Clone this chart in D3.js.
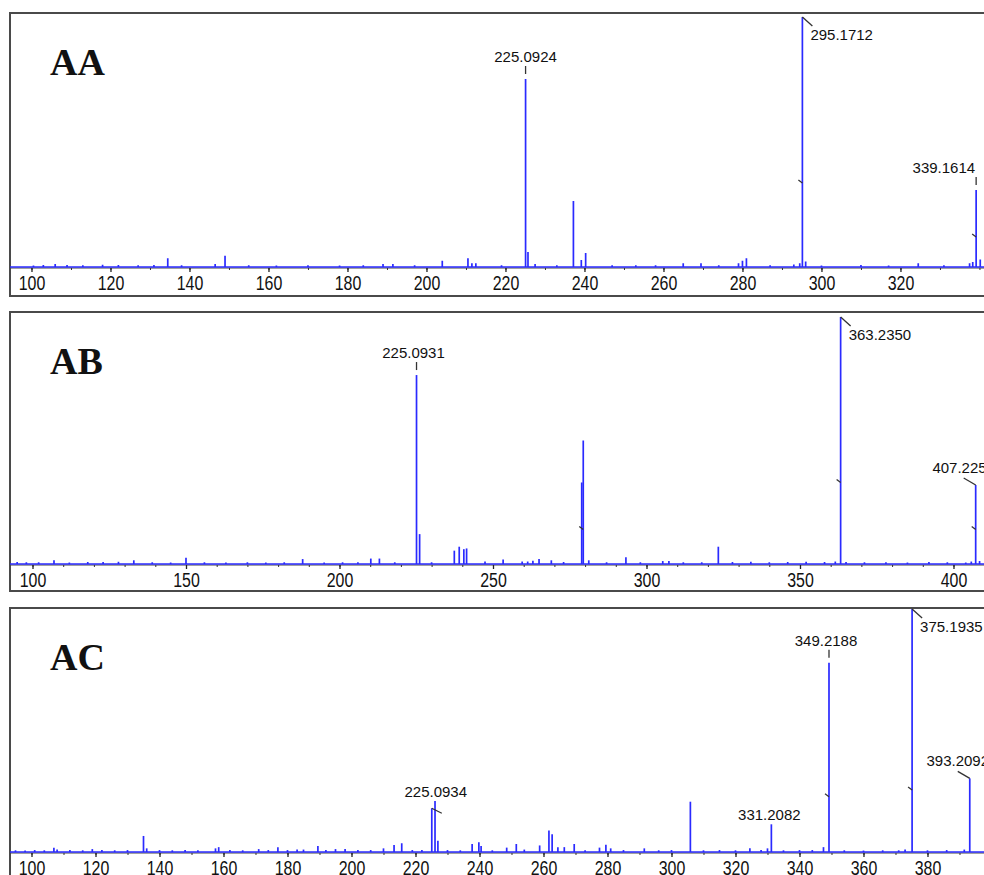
<!DOCTYPE html>
<html>
<head>
<meta charset="utf-8">
<script src="https://d3js.org/d3.v7.min.js"></script>
<style>
    body { margin: 0; background: #fff; }
    svg { display: block; }
    .frame { fill: none; stroke: #4a4a4a; stroke-width: 2px; }
    .peak { stroke: #2a2aff; stroke-width: 1.7px; }
    .trace { stroke: #2a2aff; stroke-width: 1.6px; }
    .axisline { stroke: #444; stroke-width: 1px; }
    .leader { stroke: #333; stroke-width: 1.3px; fill: none; }
    .plabel { font-family: "Liberation Sans", Arial, sans-serif; font-size: 15px; fill: #111; }
    .title { font-family: "Liberation Serif", "Times New Roman", serif; font-weight: bold; font-size: 38px; fill: #111; }
</style>
</head>
<body>
<svg id="chart" width="984" height="875"></svg>
<script>
    // peaks: [m/z, relative intensity %]
    var aaPeaks = [[100.5,0.6],[103,0.8],[106,1.2],[109,0.8],[113,0.7],[118,0.9],[122,0.8],[127,0.7],[131,0.8],
        [134.5,3.5],[138,0.7],[146.5,1.2],[149,4.5],[155,0.7],[162,0.6],[170,0.7],[178,0.6],[184,0.7],[189,1.2],
        [191.5,1.2],[197,0.7],[204,2.5],[210.5,3.5],[211.5,1.5],[212.5,1.5],[219,0.7],[225.09,75.2],[225.7,6],
        [227.5,1.2],[233,0.7],[237.2,26.4],[239.2,2.8],[240.3,5.6],[247,0.7],[253,0.7],[258,0.7],[265,1.5],
        [269.5,1.5],[274,0.7],[279,1.5],[280,2.5],[281,3.5],[287,0.7],[293,1],[294.5,1.5],[295.17,100],[296,2.2],
        [300,0.6],[310,0.8],[317,0.6],[324.5,1.5],[331,0.7],[337.5,1.5],[338.3,2],[339.16,30.8],[340.2,3]];
    var abPeaks = [[95,0.8],[98,0.7],[102,0.7],[107,1.5],[112,0.6],[118,0.8],[123,0.8],[128,0.9],[133,1.5],
        [139,0.7],[145,0.6],[150,2.5],[156,0.7],[163,0.6],[170,0.7],[176,0.6],[182,0.7],[188,2],[195,0.6],
        [201,0.7],[206,0.7],[210.2,2.2],[213,2.2],[218,0.7],[225.09,76.5],[226.1,12.1],[230,0.7],[237.4,5.4],
        [239.0,7],[240.5,6],[241.4,6.3],[247.4,1],[253.3,1.8],[259.5,1],[261.3,1],[263,1.3],[265,2],[269,1.5],
        [273,0.8],[278.9,33],[279.4,50],[281.2,1.5],[287,0.7],[293.3,2.7],[298,0.7],[305.3,1.2],[307.3,1.2],
        [312,0.7],[318,0.7],[323.4,7],[328,0.8],[334,0.9],[340,0.7],[346,0.8],[352,0.9],[358,0.8],[361.5,1],
        [363.24,100],[365,0.8],[371,0.7],[378,0.7],[385,0.6],[392,0.8],[398,0.7],[404,0.6],[405.8,1],
        [407.23,32],[408.5,1.2]];
    var acPeaks = [[95,0.7],[98,0.6],[101,0.8],[104,0.7],[107,1.8],[108,1],[112,0.8],[116,0.7],[119,1.2],
        [122,0.8],[126,0.7],[130,0.8],[135,6.6],[136,1.5],[140,0.8],[144,0.7],[148,0.8],[152,0.7],[157.5,1.5],
        [158.5,2],[162,0.8],[166,0.7],[171,1.2],[174,0.8],[177,2],[180,0.8],[183,1],[185,1],[189.5,2.5],
        [192,0.8],[195,1.2],[198,1.2],[202,0.8],[206,0.8],[210,1.5],[213.3,2.9],[215.7,3.6],[219,0.8],[222,0.8],
        [225.09,18],[226.1,21],[227,4.6],[230,0.8],[234,0.7],[237.7,3.3],[239.8,4],[240.5,2.5],[244,0.7],
        [248.5,1.8],[251.5,3.3],[254,1],[258.8,2.7],[261.7,8.8],[262.7,7.3],[264.5,2],[266.5,2],[269.6,3.3],
        [273,0.7],[277.5,1.8],[279.5,3],[281,1.5],[285,0.8],[291.5,1.5],[296,0.7],[300,0.8],[305.9,20.7],
        [310,0.7],[315,0.8],[320,0.7],[324.5,1.5],[328,0.8],[330,1.5],[331.21,11.4],[335,0.7],[340,0.8],
        [344,0.8],[347.5,2],[349.22,77.9],[354,0.7],[360,0.6],[366,0.7],[371,0.7],[373,1],[375.19,100],
        [380,0.7],[386,0.8],[391.5,1],[393.21,30.3]];

    // annotated peaks: [m/z, label]
    var aaLabels = [[225.09, "225.0924"], [295.17, "295.1712"], [339.16, "339.1614"]];
    var abLabels = [[225.09, "225.0931"], [363.24, "363.2350"], [407.23, "407.2250"]];
    var acLabels = [[225.09, "225.0934"], [331.21, "331.2082"], [349.22, "349.2188"], [375.19, "375.1935"], [393.21, "393.2092"]];

    // small centroid marks on peaks: [m/z, intensity %]
    var aaMarks = [[295.17, 33.6], [339.16, 12]];
    var abMarks = [[363.24, 33], [407.23, 14], [279.4, 14]];
    var acMarks = [[349.22, 22.7], [375.19, 25.5]];

    var aaTicks = [100, 120, 140, 160, 180, 200, 220, 240, 260, 280, 300, 320];
    var abTicks = [100, 150, 200, 250, 300, 350, 400];
    var acTicks = [100, 120, 140, 160, 180, 200, 220, 240, 260, 280, 300, 320, 340, 360, 380];

    // how each label is drawn
    var labelStyle = {
        "225.0924": {kind: "tick", dx: 0, anchor: "middle"},
        "295.1712": {kind: "down"},
        "339.1614": {kind: "tick", dx: -1, anchor: "end"},
        "225.0931": {kind: "tick", dx: -3, anchor: "middle"},
        "363.2350": {kind: "down"},
        "407.2250": {kind: "up"},
        "225.0934": {kind: "short"},
        "331.2082": {kind: "none"},
        "349.2188": {kind: "tick", dx: -3, anchor: "middle"},
        "375.1935": {kind: "down"},
        "393.2092": {kind: "up"}
    };

    var panels = [
        {name: "AA", peaks: aaPeaks, labels: aaLabels, marks: aaMarks, ticks: aaTicks,
            domain: [94.56, 341.15], top: 13, base: 267, full: 17, bottom: 296},
        {name: "AB", peaks: abPeaks, labels: abLabels, marks: abMarks, ticks: abTicks,
            domain: [92.67, 409.94], top: 312, base: 564, full: 317, bottom: 591},
        {name: "AC", peaks: acPeaks, labels: acLabels, marks: acMarks, ticks: acTicks,
            domain: [93.28, 397.66], top: 608, base: 852, full: 609, bottom: 892}
    ];

    var svg = d3.select("#chart");

    panels.forEach(function (p) {
        var x = d3.scaleLinear().domain(p.domain).range([10, 984]);
        var y = d3.scaleLinear().domain([0, 100]).range([p.base, p.full]);
        var g = svg.append("g");

        g.append("rect").attr("class", "frame")
            .attr("x", 10).attr("y", p.top)
            .attr("width", 1000).attr("height", p.bottom - p.top);

        // axis line + ticks
        g.append("line").attr("class", "axisline")
            .attr("x1", 10).attr("x2", 984).attr("y1", p.base + 1).attr("y2", p.base + 1);

        var minor = d3.range(Math.ceil(p.domain[0] / 10) * 10, p.domain[1], 10);
        g.append("g")
            .attr("transform", "translate(0," + (p.base + 1) + ")")
            .call(d3.axisBottom(x).tickValues(minor).tickSize(2).tickFormat(""))
            .call(function (a) {
                a.select(".domain").remove();
                a.selectAll("line").attr("stroke", "#333");
            });

        var ax = g.append("g")
            .attr("transform", "translate(0," + (p.base + 1) + ")")
            .call(d3.axisBottom(x).tickValues(p.ticks).tickSize(4).tickPadding(3));
        ax.select(".domain").remove();
        ax.selectAll("line").attr("stroke", "#222").attr("stroke-width", 1.3);
        ax.selectAll("text")
            .attr("font-family", "'Liberation Sans', Arial, sans-serif")
            .attr("font-size", 21)
            .attr("fill", "#111")
            .attr("transform", "scale(0.76,1)");

        // baseline trace
        g.append("line").attr("class", "trace")
            .attr("x1", 10).attr("x2", 984).attr("y1", p.base).attr("y2", p.base);

        g.selectAll(".peak").data(p.peaks).enter().append("line")
            .attr("class", "peak")
            .attr("x1", function (d) { return x(d[0]); })
            .attr("x2", function (d) { return x(d[0]); })
            .attr("y1", y(0))
            .attr("y2", function (d) { return y(d[1]); });

        g.selectAll(".mark").data(p.marks).enter().append("path")
            .attr("class", "leader")
            .attr("d", function (d) {
                var px = x(d[0]), py = y(d[1]);
                return "M" + (px - 4) + "," + (py - 3) + "L" + px + "," + py;
            });

        p.labels.forEach(function (l) {
            var pk = p.peaks.reduce(function (a, b) {
                return Math.abs(b[0] - l[0]) < Math.abs(a[0] - l[0]) ? b : a;
            });
            var px = x(pk[0]), py = y(pk[1]);
            var st = labelStyle[l[1]];
            var t = g.append("text").attr("class", "plabel").text(l[1]);
            if (st.kind === "tick") {
                g.append("path").attr("class", "leader")
                    .attr("d", "M" + px + "," + (py - 13) + "V" + (py - 5));
                t.attr("x", px + st.dx).attr("y", py - 17).attr("text-anchor", st.anchor);
            } else if (st.kind === "down") {
                g.append("path").attr("class", "leader")
                    .attr("d", "M" + px + "," + py + "L" + (px + 10) + "," + (py + 9));
                t.attr("x", px + 8).attr("y", py + 23);
            } else if (st.kind === "up") {
                g.append("path").attr("class", "leader")
                    .attr("d", "M" + (px - 12) + "," + (py - 7) + "L" + px + "," + py);
                t.attr("x", px - 12).attr("y", py - 12).attr("text-anchor", "middle");
            } else if (st.kind === "short") {
                g.append("path").attr("class", "leader")
                    .attr("d", "M" + px + "," + py + "L" + (px + 10) + "," + (py + 5));
                t.attr("x", px + 4).attr("y", py - 11).attr("text-anchor", "middle");
            } else {
                t.attr("x", px - 2).attr("y", py - 4).attr("text-anchor", "middle");
            }
        });

        g.append("text").attr("class", "title")
            .attr("x", 50).attr("y", p.top + 62)
            .text(p.name);
    });
</script>
</body>
</html>
